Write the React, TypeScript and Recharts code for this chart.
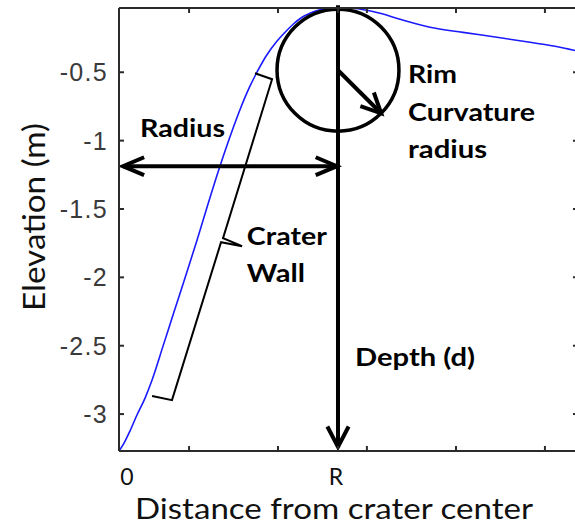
import React from "react";
import { LineChart, Line, XAxis, YAxis, ReferenceLine, ReferenceDot, Label } from "recharts";

// Radial elevation profile: distance in units of crater radius R, elevation in metres
const profileDistance = [
  0, 0.023, 0.05, 0.082, 0.119, 0.151, 0.201, 0.251, 0.301, 0.352, 0.402, 0.452,
  0.498, 0.548, 0.598, 0.635, 0.671, 0.721, 0.758, 0.795, 0.836, 0.872, 0.918,
  0.963, 1.0, 1.064, 1.132, 1.192, 1.283, 1.42, 1.571, 1.726, 1.877, 1.991, 2.096,
];
const profileElevation = [
  -3.27, -3.212, -3.124, -3.007, -2.883, -2.751, -2.503, -2.254, -2.006, -1.75,
  -1.487, -1.231, -1.012, -0.792, -0.602, -0.485, -0.383, -0.273, -0.208, -0.149,
  -0.098, -0.069, -0.043, -0.035, -0.03, -0.032, -0.047, -0.069, -0.113, -0.171,
  -0.208, -0.244, -0.281, -0.31, -0.346,
];

// Brace along the crater wall
const braceDistance = [0.621, 0.699, 0.475, 0.562, 0.466, 0.242, 0.151];
const braceElevation = [-0.507, -0.551, -1.713, -1.772, -1.743, -2.898, -2.868];

// Axes
const xDomain = [0, 2.096];
const yDomain = [-3.27, -0.03];
const xTicks = [0, 0.32, 0.726, 1, 1.132, 1.539, 1.945];
const xTickLabels = ["0", "", "", "R", "", "", ""];
const yTicks = [-3, -2.5, -2, -1.5, -1, -0.5];

// Annotation geometry (data units)
const rimCenter = [1.0, -0.485];
const rimEdge = [1.197, -0.8];
const depthTop = [1.0, -0.01];
const depthBottom = [1.0, -3.24];
const radiusStart = [0.018, -1.187];
const radiusEnd = [0.995, -1.187];

// Annotation captions: text, anchor distance, anchor elevation
const captionText = ["Radius", "Rim", "Curvature", "radius", "Crater", "Wall", "Depth (d)"];
const captionX = [0.096, 1.32, 1.32, 1.32, 0.584, 0.584, 1.078];
const captionY = [-0.975, -0.58, -0.858, -1.129, -1.765, -2.035, -2.649];
const captionWidth = [85, 49, 127, 79, 80, 58, 120];

const profileData = profileDistance.map((x, i) => ({ x, y: profileElevation[i] }));
const braceData = braceDistance.map((x, i) => ({ x, y: braceElevation[i] }));

const AXIS_COLOR = "#2b2b2b";
const TICK_COLOR = "#3a3a3a";
const SANS = "Lato, 'Open Sans', 'Noto Sans', sans-serif";

function head(tx: number, ty: number, fx: number, fy: number, len = 22, half = 0.45) {
  const a = Math.atan2(fy - ty, fx - tx);
  const w1x = tx + len * Math.cos(a + half);
  const w1y = ty + len * Math.sin(a + half);
  const w2x = tx + len * Math.cos(a - half);
  const w2y = ty + len * Math.sin(a - half);
  return `M${w1x},${w1y}L${tx},${ty}L${w2x},${w2y}`;
}

const strokeProps = {
  fill: "none",
  stroke: "#000",
  strokeWidth: 4,
  strokeLinejoin: "miter" as const,
};

const DepthArrow = (p: any) => (
  <g>
    <line x1={p.x1} y1={p.y1} x2={p.x2} y2={p.y2} {...strokeProps} />
    <path d={head(p.x2, p.y2, p.x1, p.y1, 23, 0.48)} {...strokeProps} />
  </g>
);

const RadiusArrow = (p: any) => (
  <g>
    <line x1={p.x1} y1={p.y1} x2={p.x2} y2={p.y2} {...strokeProps} />
    <path d={head(p.x1, p.y1, p.x2, p.y2, 23, 0.4)} {...strokeProps} />
    <path d={head(p.x2, p.y2, p.x1, p.y1, 23, 0.4)} {...strokeProps} />
  </g>
);

const RimArrow = (p: any) => {
  const r = Math.hypot(p.x2 - p.x1, p.y2 - p.y1);
  return (
    <g>
      <circle cx={p.x1} cy={p.y1} r={r} {...strokeProps} strokeWidth={3.5} />
      <line x1={p.x1} y1={p.y1} x2={p.x2} y2={p.y2} {...strokeProps} />
      <path d={head(p.x2, p.y2, p.x1, p.y1, 22, 0.45)} {...strokeProps} />
    </g>
  );
};

const captionShape = (i: number) => (p: any) => (
  <text
    x={p.cx}
    y={p.cy}
    fontFamily={SANS}
    fontWeight={700}
    fontSize={25}
    fill="#000"
    textLength={captionWidth[i]}
    lengthAdjust="spacingAndGlyphs"
  >
    {captionText[i]}
  </text>
);

const YTick = (p: any) => (
  <text
    x={p.x}
    y={p.y}
    dy="0.36em"
    textAnchor="end"
    fontFamily="'Liberation Sans', Arial, sans-serif"
    fontSize={25}
    letterSpacing={1.3}
    fill={TICK_COLOR}
  >
    {String(p.payload.value)}
  </text>
);

const XTick = (p: any) => {
  const idx = xTicks.indexOf(p.payload.value);
  const label = idx >= 0 ? xTickLabels[idx] : "";
  if (!label) return <g />;
  const shift = idx === 0 ? 8 : -2;
  return (
    <text
      x={p.x + shift}
      y={p.y}
      textAnchor="middle"
      fontFamily={SANS}
      fontSize={23}
      fill="#111"
    >
      {label}
    </text>
  );
};

const XTitle = (p: any) => {
  const vb = p.viewBox;
  return (
    <text
      x={vb.x + vb.width / 2 - 14.5}
      y={vb.y + 68}
      textAnchor="middle"
      fontFamily={SANS}
      fontSize={29}
      fill="#111"
      textLength={398}
      lengthAdjust="spacingAndGlyphs"
    >
      Distance from crater center
    </text>
  );
};

const YTitle = (p: any) => {
  const vb = p.viewBox;
  const cx = vb.x + 45;
  const cy = vb.y + vb.height / 2 - 12.5;
  return (
    <text
      x={cx}
      y={cy}
      transform={`rotate(-90, ${cx}, ${cy})`}
      textAnchor="middle"
      fontFamily={SANS}
      fontSize={30}
      fill="#111"
      textLength={188}
      lengthAdjust="spacingAndGlyphs"
    >
      Elevation (m)
    </text>
  );
};

export default function App() {
  return (
    <div
      style={{
        position: "absolute",
        left: 0,
        top: 0,
        width: 575,
        height: 528,
        overflow: "hidden",
        background: "#fff",
      }}
    >
      <LineChart width={600} height={528} margin={{ top: 0, right: 0, bottom: 0, left: 0 }}>
        <XAxis
          dataKey="x"
          type="number"
          domain={xDomain}
          ticks={xTicks}
          allowDataOverflow
          height={77}
          tickSize={-5}
          tickMargin={39}
          tick={<XTick />}
          stroke={AXIS_COLOR}
          strokeWidth={2}
          interval={0}
        >
          <Label content={<XTitle />} />
        </XAxis>
        <XAxis
          xAxisId="top"
          orientation="top"
          dataKey="x"
          type="number"
          domain={xDomain}
          ticks={xTicks}
          allowDataOverflow
          height={8}
          tickSize={-5}
          tickFormatter={() => ""}
          stroke={AXIS_COLOR}
          strokeWidth={2}
          interval={0}
        />
        <YAxis
          type="number"
          domain={yDomain}
          ticks={yTicks}
          allowDataOverflow
          width={119}
          tickSize={-5}
          tickMargin={16}
          tick={<YTick />}
          stroke={AXIS_COLOR}
          strokeWidth={2}
          interval={0}
        >
          <Label content={<YTitle />} />
        </YAxis>
        <YAxis
          yAxisId="right"
          orientation="right"
          type="number"
          domain={yDomain}
          ticks={yTicks}
          allowDataOverflow
          width={22}
          tickSize={-5}
          tickFormatter={() => ""}
          stroke={AXIS_COLOR}
          strokeWidth={2}
          interval={0}
        />

        <Line
          data={profileData}
          dataKey="y"
          type="monotone"
          stroke="#1a1aff"
          strokeWidth={1.6}
          dot={false}
          isAnimationActive={false}
        />
        <Line
          data={braceData}
          dataKey="y"
          type="linear"
          stroke="#000"
          strokeWidth={2}
          dot={false}
          isAnimationActive={false}
        />

        <ReferenceLine
          segment={[
            { x: depthTop[0], y: depthTop[1] },
            { x: depthBottom[0], y: depthBottom[1] },
          ]}
          ifOverflow="visible"
          shape={DepthArrow}
        />
        <ReferenceLine
          segment={[
            { x: radiusStart[0], y: radiusStart[1] },
            { x: radiusEnd[0], y: radiusEnd[1] },
          ]}
          ifOverflow="visible"
          shape={RadiusArrow}
        />
        <ReferenceLine
          segment={[
            { x: rimCenter[0], y: rimCenter[1] },
            { x: rimEdge[0], y: rimEdge[1] },
          ]}
          ifOverflow="visible"
          shape={RimArrow}
        />
        {captionText.map((t, i) => (
          <ReferenceDot
            key={t + i}
            x={captionX[i]}
            y={captionY[i]}
            r={0}
            ifOverflow="visible"
            shape={captionShape(i)}
          />
        ))}
      </LineChart>
    </div>
  );
}
